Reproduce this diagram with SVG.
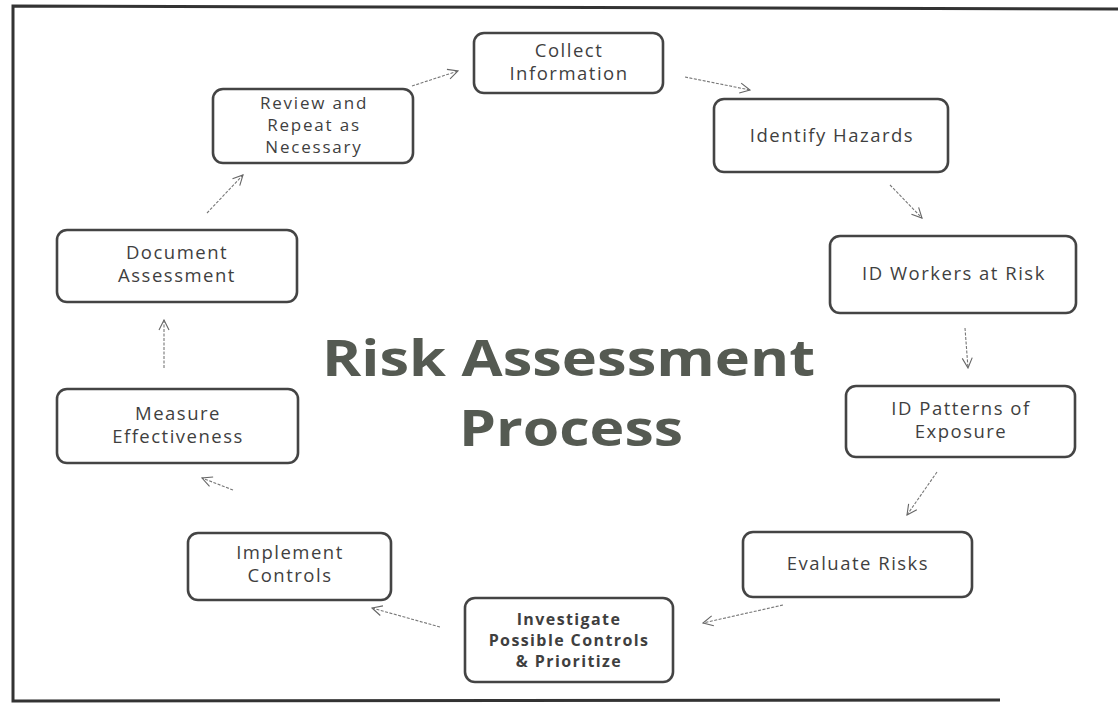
<svg xmlns="http://www.w3.org/2000/svg" width="1118" height="708" viewBox="0 0 1118 708">
<defs>
<marker id="arr" viewBox="0 0 12 12" refX="11" refY="6" markerWidth="12" markerHeight="12" markerUnits="userSpaceOnUse" orient="auto">
<path d="M1,1 L11,6 L1,11" fill="none" stroke="#666" stroke-width="1.1"/>
</marker>
<style>
.box{fill:#fff;stroke:#444;stroke-width:2.6}
.t{font-family:"Open Sans","Liberation Sans",sans-serif;font-size:18.5px;letter-spacing:1.5px;fill:#3f3f3f;text-anchor:middle}
.ts{font-size:17px;letter-spacing:1.8px}
.tb{font-weight:bold;font-size:16px;letter-spacing:1.4px}
.c{fill:none;stroke:#777;stroke-width:1.1;stroke-dasharray:3 1.5;marker-end:url(#arr)}
.title{font-family:"Open Sans","Liberation Sans",sans-serif;font-weight:bold;font-size:50px;fill:#555a52}
</style>
</defs>
<rect width="1118" height="708" fill="#fff"/>
<g id="frame" fill="none" stroke="#333" stroke-width="3">
<path d="M1118,9 L13,6 L13,701 L1000,700"/>
</g>
<g id="title">
<text class="title" x="322" y="376" textLength="493" lengthAdjust="spacingAndGlyphs">Risk Assessment</text>
<text class="title" x="459" y="446" textLength="224" lengthAdjust="spacingAndGlyphs">Process</text>
</g>
<g id="connectors">
<line class="c" x1="412" y1="86" x2="458" y2="71"/>
<line class="c" x1="685" y1="77" x2="750" y2="90"/>
<line class="c" x1="890" y1="185" x2="922" y2="218"/>
<line class="c" x1="965" y1="328" x2="968" y2="368"/>
<line class="c" x1="937" y1="472" x2="907" y2="515"/>
<line class="c" x1="783" y1="605" x2="703" y2="623"/>
<line class="c" x1="440" y1="627" x2="372" y2="608"/>
<line class="c" x1="233" y1="490" x2="202" y2="478"/>
<line class="c" x1="164" y1="368" x2="164" y2="320"/>
<line class="c" x1="207" y1="213" x2="243" y2="175"/>
</g>
<g id="n1"><rect class="box" x="474" y="33" width="189" height="60" rx="10"/><text class="t" x="569" y="57">Collect</text><text class="t" x="569" y="80">Information</text></g>
<g id="n2"><rect class="box" x="714" y="99" width="234" height="73" rx="10"/><text class="t" x="832" y="142">Identify Hazards</text></g>
<g id="n3"><rect class="box" x="830" y="236" width="246" height="77" rx="10"/><text class="t" x="954" y="280">ID Workers at Risk</text></g>
<g id="n4"><rect class="box" x="846" y="386" width="229" height="71" rx="10"/><text class="t" x="961" y="415">ID Patterns of</text><text class="t" x="961" y="438">Exposure</text></g>
<g id="n5"><rect class="box" x="743" y="532" width="229" height="65" rx="10"/><text class="t" x="858" y="570">Evaluate Risks</text></g>
<g id="n6"><rect class="box" x="465" y="598" width="208" height="84" rx="10"/><text class="t tb" x="569" y="625">Investigate</text><text class="t tb" x="569" y="646">Possible Controls</text><text class="t tb" x="569" y="667">&amp; Prioritize</text></g>
<g id="n7"><rect class="box" x="188" y="533" width="203" height="67" rx="10"/><text class="t" x="290" y="559">Implement</text><text class="t" x="290" y="582">Controls</text></g>
<g id="n8"><rect class="box" x="57" y="389" width="241" height="74" rx="10"/><text class="t" x="178" y="420">Measure</text><text class="t" x="178" y="443">Effectiveness</text></g>
<g id="n9"><rect class="box" x="57" y="230" width="240" height="72" rx="10"/><text class="t" x="177" y="259">Document</text><text class="t" x="177" y="282">Assessment</text></g>
<g id="n10"><rect class="box" x="213" y="89" width="200" height="74" rx="10"/><text class="t ts" x="314" y="109">Review and</text><text class="t ts" x="314" y="131">Repeat as</text><text class="t ts" x="314" y="153">Necessary</text></g>
</svg>
